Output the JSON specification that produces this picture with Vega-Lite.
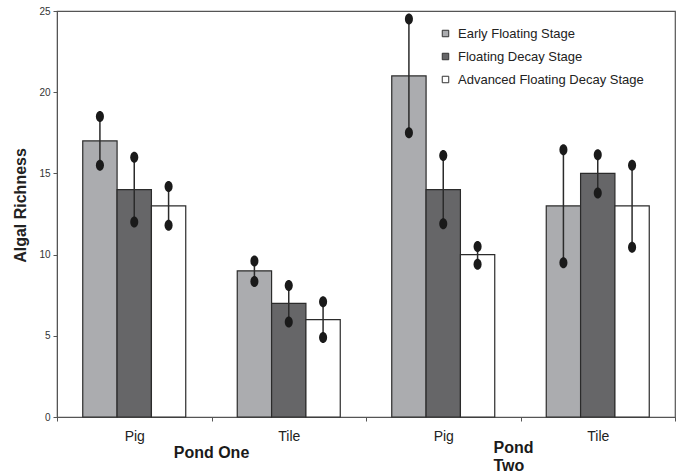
{
  "$schema": "https://vega.github.io/schema/vega-lite/v6.json",
  "width": 618,
  "height": 406,
  "autosize": "none",
  "padding": {"left": 57, "top": 11, "right": 8, "bottom": 58},
  "background": "white",
  "config": {
    "font": "Liberation Sans",
    "view": {"stroke": "#555", "strokeWidth": 1.2}
  },
  "data": {
    "values": [
      {"grp": "One|Pig", "stage": "Early Floating Stage", "value": 17, "lo": 15.5, "hi": 18.5},
      {"grp": "One|Pig", "stage": "Floating Decay Stage", "value": 14, "lo": 12, "hi": 16},
      {"grp": "One|Pig", "stage": "Advanced Floating Decay Stage", "value": 13, "lo": 11.8, "hi": 14.2},
      {"grp": "One|Tile", "stage": "Early Floating Stage", "value": 9, "lo": 8.35, "hi": 9.6},
      {"grp": "One|Tile", "stage": "Floating Decay Stage", "value": 7, "lo": 5.85, "hi": 8.1},
      {"grp": "One|Tile", "stage": "Advanced Floating Decay Stage", "value": 6, "lo": 4.9, "hi": 7.1},
      {"grp": "Two|Pig", "stage": "Early Floating Stage", "value": 21, "lo": 17.5, "hi": 24.5},
      {"grp": "Two|Pig", "stage": "Floating Decay Stage", "value": 14, "lo": 11.9, "hi": 16.1},
      {"grp": "Two|Pig", "stage": "Advanced Floating Decay Stage", "value": 10, "lo": 9.4, "hi": 10.5},
      {"grp": "Two|Tile", "stage": "Early Floating Stage", "value": 13, "lo": 9.5, "hi": 16.45},
      {"grp": "Two|Tile", "stage": "Floating Decay Stage", "value": 15, "lo": 13.8, "hi": 16.15},
      {"grp": "Two|Tile", "stage": "Advanced Floating Decay Stage", "value": 13, "lo": 10.45, "hi": 15.5}
    ]
  },
  "layer": [
    {
      "mark": {"type": "bar", "stroke": "#2b2b2b", "strokeWidth": 1.2},
      "encoding": {
        "x": {
          "field": "grp", "type": "nominal",
          "scale": {"domain": ["One|Pig", "One|Tile", "Two|Pig", "Two|Tile"], "paddingInner": 0, "paddingOuter": 0},
          "axis": {
            "title": null,
            "labelExpr": "split(datum.value, '|')[1]",
            "labelAngle": 0,
            "tickBand": "extent",
            "tickSize": 4,
            "tickColor": "#555",
            "domainColor": "#555",
            "labelFontSize": 14,
            "labelColor": "#222",
            "labelPadding": 8
          }
        },
        "xOffset": {
          "field": "stage", "type": "nominal",
          "scale": {"domain": ["Early Floating Stage", "Floating Decay Stage", "Advanced Floating Decay Stage"], "paddingInner": 0, "paddingOuter": 0.75}
        },
        "y": {
          "field": "value", "type": "quantitative",
          "title": "Algal Richness",
          "scale": {"domain": [0, 25], "nice": false},
          "axis": {
            "values": [0, 5, 10, 15, 20, 25],
            "grid": false,
            "tickSize": 4,
            "tickColor": "#555",
            "domainColor": "#555",
            "labelFontSize": 10,
            "labelColor": "#333",
            "labelPadding": 3,
            "titleFontSize": 16,
            "titleFontWeight": "bold",
            "titleColor": "#222",
            "titleX": -37,
            "titleY": 194,
            "titleAngle": -90,
            "titleAlign": "center",
            "titleBaseline": "middle"
          }
        },
        "color": {
          "field": "stage", "type": "nominal",
          "scale": {
            "domain": ["Early Floating Stage", "Floating Decay Stage", "Advanced Floating Decay Stage"],
            "range": ["#abacaf", "#666668", "#ffffff"]
          },
          "legend": {
            "title": null,
            "orient": "none",
            "legendX": 382,
            "legendY": 16,
            "symbolType": "square",
            "symbolSize": 42,
            "symbolStrokeColor": "#333",
            "symbolStrokeWidth": 1,
            "labelFontSize": 13,
            "labelColor": "#222",
            "labelOffset": 6,
            "rowPadding": 9,
            "labelLimit": 300
          }
        }
      }
    },
    {
      "mark": {"type": "rule", "color": "#2b2b2b", "strokeWidth": 1.5},
      "encoding": {
        "x": {"field": "grp", "type": "nominal"},
        "xOffset": {"field": "stage", "type": "nominal"},
        "y": {"field": "lo", "type": "quantitative", "title": "Algal Richness"},
        "y2": {"field": "hi"}
      }
    },
    {
      "mark": {"type": "point", "filled": true, "opacity": 1, "color": "#1a1a1a", "size": 121, "shape": "M0,-1A0.73,1,0,1,1,0,1A0.73,1,0,1,1,0,-1Z"},
      "encoding": {
        "x": {"field": "grp", "type": "nominal"},
        "xOffset": {"field": "stage", "type": "nominal"},
        "y": {"field": "lo", "type": "quantitative", "title": "Algal Richness"}
      }
    },
    {
      "mark": {"type": "point", "filled": true, "opacity": 1, "color": "#1a1a1a", "size": 121, "shape": "M0,-1A0.73,1,0,1,1,0,1A0.73,1,0,1,1,0,-1Z"},
      "encoding": {
        "x": {"field": "grp", "type": "nominal"},
        "xOffset": {"field": "stage", "type": "nominal"},
        "y": {"field": "hi", "type": "quantitative", "title": "Algal Richness"}
      }
    },
    {
      "data": {"values": [{"grp": "One|Tile", "label": "Pond One"}]},
      "mark": {"type": "text", "fontSize": 16, "fontWeight": "bold", "color": "#1a1a1a", "align": "center", "baseline": "middle", "dy": 36},
      "encoding": {
        "x": {"field": "grp", "type": "nominal", "bandPosition": 0},
        "y": {"datum": 0, "type": "quantitative"},
        "text": {"field": "label"}
      }
    },
    {
      "data": {"values": [{"grp": "Two|Tile", "label": "Pond\nTwo"}]},
      "mark": {"type": "text", "fontSize": 16, "fontWeight": "bold", "color": "#1a1a1a", "align": "left", "baseline": "top", "dx": -27, "dy": 23, "lineBreak": "\n", "lineHeight": 18},
      "encoding": {
        "x": {"field": "grp", "type": "nominal", "bandPosition": 0},
        "y": {"datum": 0, "type": "quantitative"},
        "text": {"field": "label"}
      }
    }
  ]
}
